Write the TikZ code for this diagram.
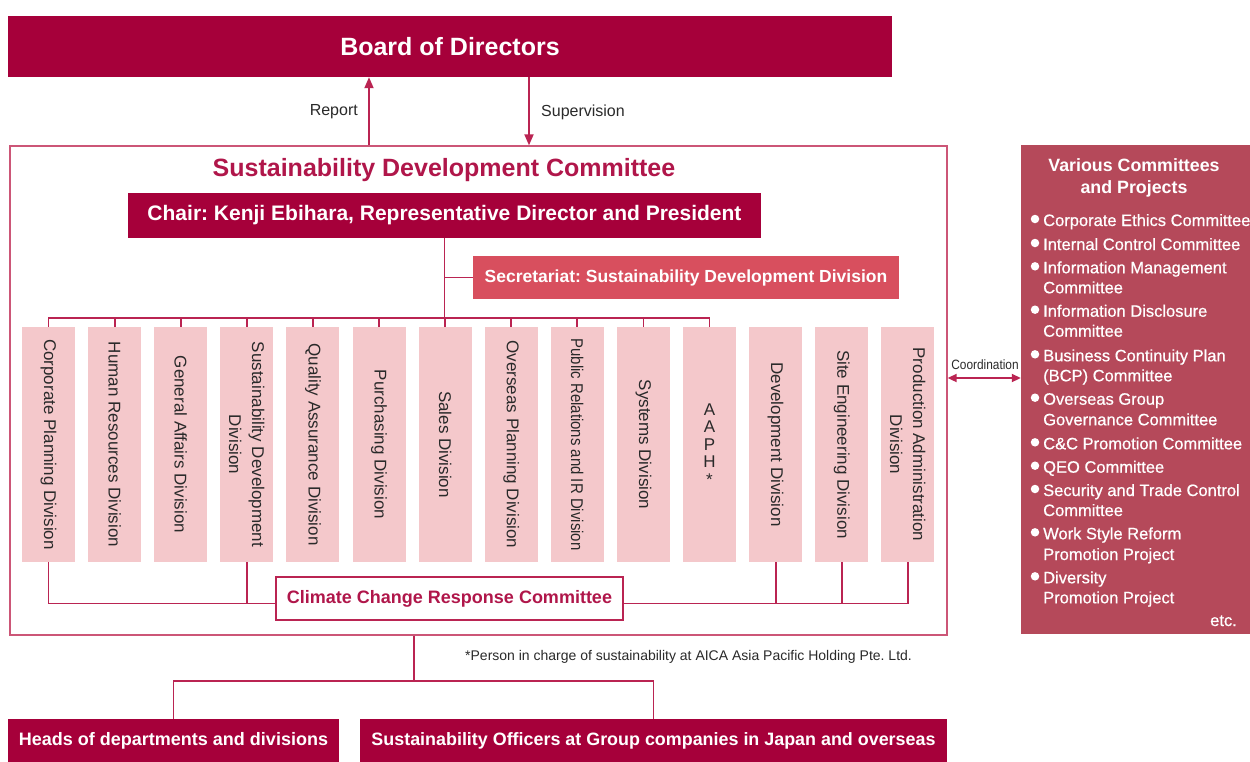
\documentclass[tikz,border=0pt]{standalone}
\usepackage{fontspec}
\setmainfont{Liberation Sans}
\newfontfamily\narrowsans[FakeStretch=0.88]{Liberation Sans}
\newfontfamily\medsans[FakeBold=0.6]{Liberation Sans}
\usetikzlibrary{arrows.meta,calc}
\definecolor{boardred}{HTML}{A6003A}
\definecolor{linecol}{HTML}{BA2452}
\definecolor{framecol}{HTML}{CC5677}
\definecolor{titlered}{HTML}{B0164A}
\definecolor{secred}{HTML}{D84F5E}
\definecolor{pinkbox}{HTML}{F4C8CB}
\definecolor{panelred}{HTML}{B5495A}
\definecolor{divtxt}{HTML}{2A2A2A}
\newcommand{\fsz}[2]{\fontsize{#1}{#2}\selectfont}
\frenchspacing
\begin{document}
\frenchspacing
\begin{tikzpicture}[x=1pt,y=-1pt,
  conn/.style={draw=linecol, line width=1.8pt},
  arr/.style={conn, -{Triangle[length=11pt,width=9pt]}},
  biarr/.style={conn, {Triangle[length=9pt,width=8pt]}-{Triangle[length=9pt,width=8pt]}},
  darkbox/.style={fill=boardred, text=white, inner sep=0pt},
  divbox/.style={fill=pinkbox, inner sep=0pt, minimum width=53pt, minimum height=235pt},
  divtext/.style={rotate=-90, text=divtxt, align=center, font=\fsz{17}{23}, inner sep=0pt},
  smalllabel/.style={text=divtxt, font=\fsz{16}{19}, inner sep=0pt},
  ptext/.style={text=white, anchor=base west, font=\medsans\fsz{16.5}{20}, inner sep=0pt},
  bullet/.style={circle, fill=white, minimum size=8.5pt, inner sep=0pt}
]
\useasboundingbox (0,0) rectangle (1250,761);
\fill[white] (0,0) rectangle (1250,761);

% Board
\node[darkbox, minimum width=884pt, minimum height=61pt, font=\fsz{25}{29}\bfseries] (board) at (450,46.5) {Board of Directors};

% Committee frame
\node[draw=framecol, line width=1.3pt, minimum width=937pt, minimum height=489pt, inner sep=0pt] (sdc) at (478.5,390.5) {};
\node[text=titlered, font=\fsz{25}{29}\bfseries, inner sep=0pt] (sdctitle) at (444,170) {Sustainability Development Committee};

% Report / Supervision
\coordinate (rp) at (369,0);
\coordinate (sp) at (529,0);
\draw[arr] (sdc.north -| rp) -- (board.south -| rp);
\draw[arr] (board.south -| sp) -- (sdc.north -| sp);
\node[smalllabel, anchor=east] (report) at (358,112) {Report};
\node[smalllabel, anchor=west] (superv) at (541,112) {Supervision};

% Chair
\node[darkbox, minimum width=633pt, minimum height=45pt, font=\fsz{21}{25}\bfseries] (chair) at (444.5,215.5) {Chair: Kenji Ebihara, Representative Director and President};

% Secretariat
\node[fill=secred, text=white, inner sep=0pt, minimum width=426pt, minimum height=43pt, font=\fsz{17.5}{21}\bfseries] (sec) at (686,277.5) {Secretariat: Sustainability Development Division};

% Division boxes
\foreach \i in {1,...,14} {
  \node[divbox] (d\i) at ({48.5+66.1*(\i-1)},444.5) {};
}
\foreach \i/\t in {1/{Corporate Planning Division},2/{Human Resources Division},3/{General Affairs Division},4/{Sustainability Development\\Division},5/{Quality Assurance Division},6/{Purchasing Division},7/{Sales Division},8/{Overseas Planning Division},9/{\narrowsans Public Relations and IR Division},10/{Systems Division},12/{Development Division},13/{Site Engineering Division},14/{Production Administration\\Division}} {
  \node[divtext] (t\i) at (d\i) {\t};
}
\node[text=divtxt, align=center, font=\fsz{17}{17.5}, inner sep=0pt] (t11) at ($(d11)+(0,0)$) {A\\A\\P\\H\\*};

% bus lines
\draw[conn] (d1.north) -- ++(0,-9) -| (d11.north);
\foreach \i in {2,...,10} { \draw[conn] (d\i.north) -- ++(0,-9); }
\draw[conn] (chair.south) -- (chair.south |- d7.north);
\draw[conn] (chair.south |- sec.west) -- (sec.west);

% Climate Change Response Committee
\node[draw=linecol, fill=white, line width=1.3pt, inner sep=0pt, minimum width=347pt, minimum height=43pt, text=titlered, font=\fsz{18}{21}\bfseries] (climate) at (449.5,598.5) {Climate Change Response Committee};
\coordinate (cl) at ($(climate.west)+(0,5)$);
\coordinate (cr) at ($(climate.east)+(0,5)$);
\draw[conn] (d1.south) |- (cl);
\draw[conn] (d4.south) -- (d4.south |- cl);
\draw[conn] (cr) -| (d14.south);
\draw[conn] (d12.south) -- (d12.south |- cr);
\draw[conn] (d13.south) -- (d13.south |- cr);

% Right panel
\node[fill=panelred, inner sep=0pt, minimum width=245pt, minimum height=489pt] (panel) at (1143.5,389.5) {};
\node[text=white, align=center, font=\fsz{17.8}{22}\bfseries, inner sep=0pt] (ptitle) at (1134,177.5) {Various Committees\\and Projects};
\coordinate (co) at (0,378);
\draw[biarr] (sdc.east |- co) -- (panel.west |- co);
\node[text=divtxt, font=\narrowsans\fsz{13.5}{15}, inner sep=0pt] (coord) at (985,365) {Coordination};

\foreach \y/\t/\b [count=\k] in {
 220/{Corporate Ethics Committee}/1,
 244/{Internal Control Committee}/1,
 267.3/{Information Management}/1,
 287.3/{Committee}/0,
 310.7/{Information Disclosure}/1,
 330.7/{Committee}/0,
 355.3/{Business Continuity Plan}/1,
 375.3/{(BCP) Committee}/0,
 398.7/{Overseas Group}/1,
 419.3/{Governance Committee}/0,
 443.3/{C\&C Promotion Committee}/1,
 466.7/{QEO Committee}/1,
 490/{Security and Trade Control}/1,
 510/{Committee}/0,
 533.3/{Work Style Reform}/1,
 554/{Promotion Project}/0,
 577.3/{Diversity}/1,
 597.3/{Promotion Project}/0} {
  \node[ptext] (p\k) at (1043,\y+6) {\t};
  \ifnum\b=1 \node[bullet] (b\k) at (1035,\y-1) {}; \fi
}
\node[text=white, anchor=base east, font=\medsans\fsz{16.5}{20}, inner sep=0pt] (etc) at (1237,626) {etc.};

% Footnote
\node[text=divtxt, anchor=west, font=\fsz{14}{16}, inner sep=0pt] (fn) at (465,657) {*Person in charge of sustainability at AICA Asia Pacific Holding Pte. Ltd.};

% Bottom
\node[darkbox, minimum width=331pt, minimum height=44pt, font=\fsz{18}{21}\bfseries] (heads) at (173.5,741) {Heads of departments and divisions};
\node[darkbox, minimum width=587pt, minimum height=44pt, font=\fsz{17.9}{21}\bfseries] (officers) at (653.5,741) {Sustainability Officers at Group companies in Japan and overseas};
\coordinate (split) at (414,681);
\draw[conn] (sdc.south -| split) -- (split);
\draw[conn] (heads.north) |- (split) -| (officers.north);
\end{tikzpicture}
\end{document}
